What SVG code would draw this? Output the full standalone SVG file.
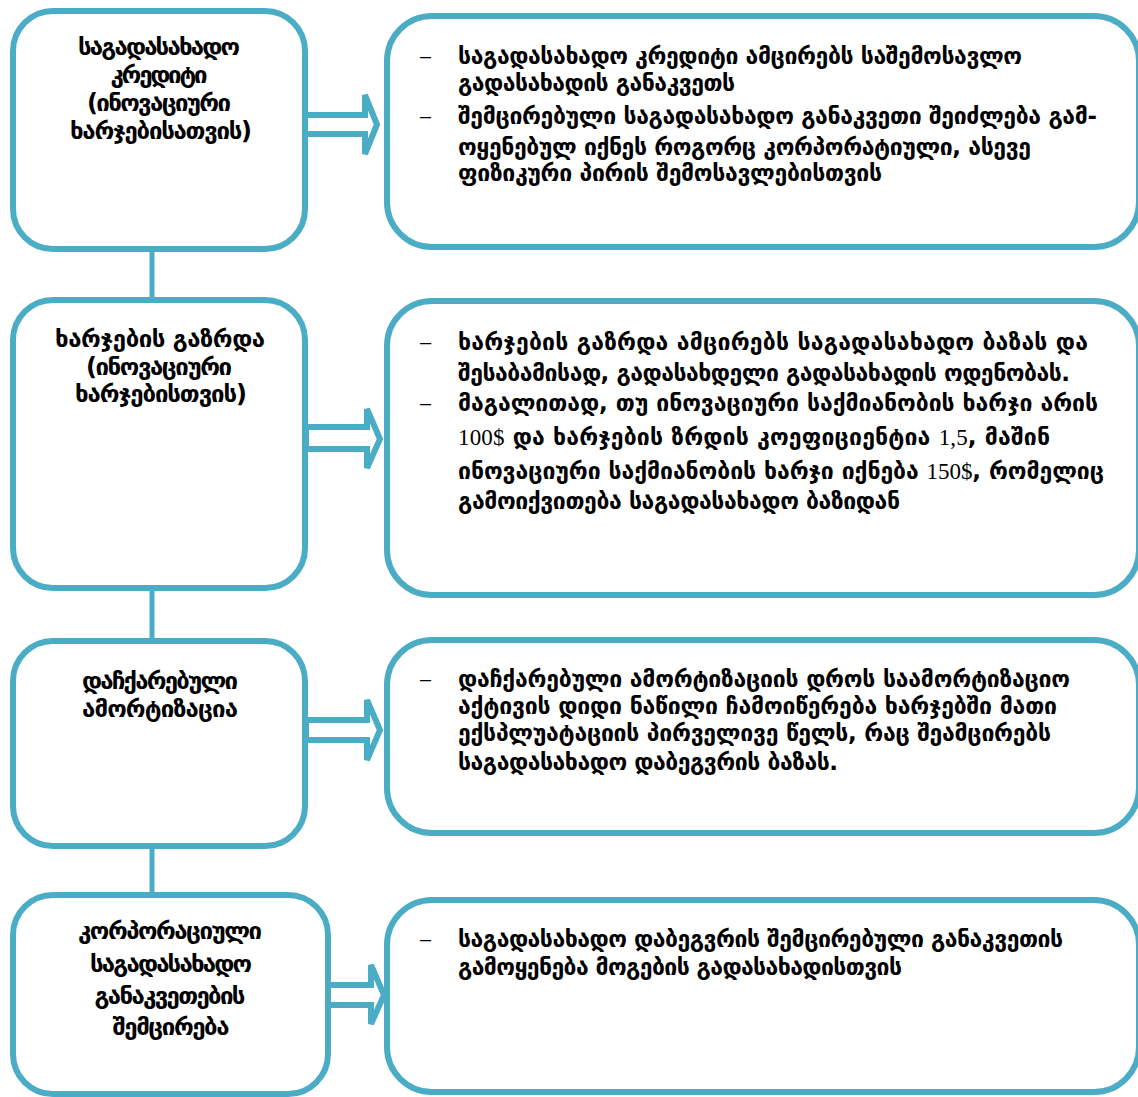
<svg xmlns="http://www.w3.org/2000/svg" width="1138" height="1097" viewBox="0 0 1138 1097">
<style>
.box{fill:#fff;stroke:#4BACC6;stroke-width:6}
.arr{fill:#fff;stroke:#4BACC6;stroke-width:6;stroke-linejoin:miter}
.con{stroke:#4BACC6;stroke-width:5;fill:none}
.lt{font-family:"DejaVu Sans",sans-serif;font-weight:bold;font-size:24px;fill:#000;text-anchor:middle}
.rt{font-family:"DejaVu Sans",sans-serif;font-weight:bold;font-size:23px;fill:#000}
.num{font-family:"Liberation Serif",serif;font-weight:normal;font-size:23px}
.dash{font-family:"Liberation Sans",sans-serif;font-size:20px;fill:#000}
</style>
<rect width="1138" height="1097" fill="#fff"/>
<g id="connectors">
<line class="con" x1="152" y1="250" x2="152" y2="300"/>
<line class="con" x1="152" y1="589" x2="152" y2="641"/>
<line class="con" x1="152" y1="847" x2="152" y2="895"/>
<polygon class="arr" points="305,115 365,115 365,95 377,124.5 365,154 365,134 305,134"/>
<polygon class="arr" points="306,427 367,427 367,409 380,439 367,468 367,449 306,449"/>
<polygon class="arr" points="306,720 367,720 367,700 380,730 367,760 367,740 306,740"/>
<polygon class="arr" points="326,985 371,985 371,965 384,995 371,1024 371,1005 326,1005"/>
</g>
<g id="n1">
<rect class="box" x="13" y="11" width="292" height="238" rx="40"/>
<text class="lt" x="159" y="55" textLength="162">საგადასახადო</text>
<text class="lt" x="159" y="83" textLength="97">კრედიტი</text>
<text class="lt" x="159" y="111" textLength="144">(ინოვაციური</text>
<text class="lt" x="161" y="139" textLength="182">ხარჯებისათვის)</text>
</g>
<g id="n2">
<rect class="box" x="13" y="300" width="292" height="288" rx="40"/>
<text class="lt" x="160" y="347" textLength="210">ხარჯების გაზრდა</text>
<text class="lt" x="159" y="375" textLength="146">(ინოვაციური</text>
<text class="lt" x="161" y="402" textLength="172">ხარჯებისთვის)</text>
</g>
<g id="n3">
<rect class="box" x="13" y="641" width="292" height="205" rx="40"/>
<text class="lt" x="160" y="689" textLength="156">დაჩქარებული</text>
<text class="lt" x="160" y="717" textLength="156">ამორტიზაცია</text>
</g>
<g id="n4">
<rect class="box" x="13" y="895" width="315" height="199" rx="40"/>
<text class="lt" x="170" y="939" textLength="184">კორპორაციული</text>
<text class="lt" x="171" y="972" textLength="162">საგადასახადო</text>
<text class="lt" x="170" y="1004" textLength="151">განაკვეთების</text>
<text class="lt" x="171" y="1035" textLength="117">შემცირება</text>
</g>
<g id="r1">
<rect class="box" x="387" y="16" width="752" height="231" rx="45"/>
<text class="dash" x="420" y="63">–</text>
<text class="rt" x="458" y="64" textLength="564">საგადასახადო კრედიტი ამცირებს საშემოსავლო</text>
<text class="rt" x="458" y="91" textLength="277">გადასახადის განაკვეთს</text>
<text class="dash" x="420" y="123">–</text>
<text class="rt" x="458" y="124" textLength="639">შემცირებული საგადასახადო განაკვეთი შეიძლება გამ-</text>
<text class="rt" x="458" y="155" textLength="573">ოყენებულ იქნეს როგორც კორპორატიული, ასევე</text>
<text class="rt" x="458" y="181" textLength="424">ფიზიკური პირის შემოსავლებისთვის</text>
</g>
<g id="r2">
<rect class="box" x="387" y="301" width="752" height="294" rx="45"/>
<text class="dash" x="420" y="349">–</text>
<text class="rt" x="458" y="350" textLength="630">ხარჯების გაზრდა ამცირებს საგადასახადო ბაზას და</text>
<text class="rt" x="458" y="381" textLength="612">შესაბამისად, გადასახდელი გადასახადის ოდენობას.</text>
<text class="dash" x="420" y="410">–</text>
<text class="rt" x="458" y="411" textLength="640">მაგალითად, თუ ინოვაციური საქმიანობის ხარჯი არის</text>
<text class="rt" x="458" y="445" textLength="592"><tspan class="num">100$</tspan> და ხარჯების ზრდის კოეფიციენტია <tspan class="num">1,5</tspan>, მაშინ</text>
<text class="rt" x="458" y="479" textLength="646">ინოვაციური საქმიანობის ხარჯი იქნება <tspan class="num">150$</tspan>, რომელიც</text>
<text class="rt" x="458" y="509" textLength="442">გამოიქვითება საგადასახადო ბაზიდან</text>
</g>
<g id="r3">
<rect class="box" x="387" y="640" width="752" height="193" rx="45"/>
<text class="dash" x="420" y="686">–</text>
<text class="rt" x="458" y="687" textLength="612">დაჩქარებული ამორტიზაციის დროს საამორტიზაციო</text>
<text class="rt" x="458" y="714" textLength="599">აქტივის დიდი ნაწილი ჩამოიწერება ხარჯებში მათი</text>
<text class="rt" x="458" y="741" textLength="593">ექსპლუატაციის პირველივე წელს, რაც შეამცირებს</text>
<text class="rt" x="458" y="770" textLength="380">საგადასახადო დაბეგვრის ბაზას.</text>
</g>
<g id="r4">
<rect class="box" x="387" y="900" width="752" height="192" rx="45"/>
<text class="dash" x="420" y="946">–</text>
<text class="rt" x="458" y="947" textLength="605">საგადასახადო დაბეგვრის შემცირებული განაკვეთის</text>
<text class="rt" x="458" y="975" textLength="444">გამოყენება მოგების გადასახადისთვის</text>
</g>
</svg>
